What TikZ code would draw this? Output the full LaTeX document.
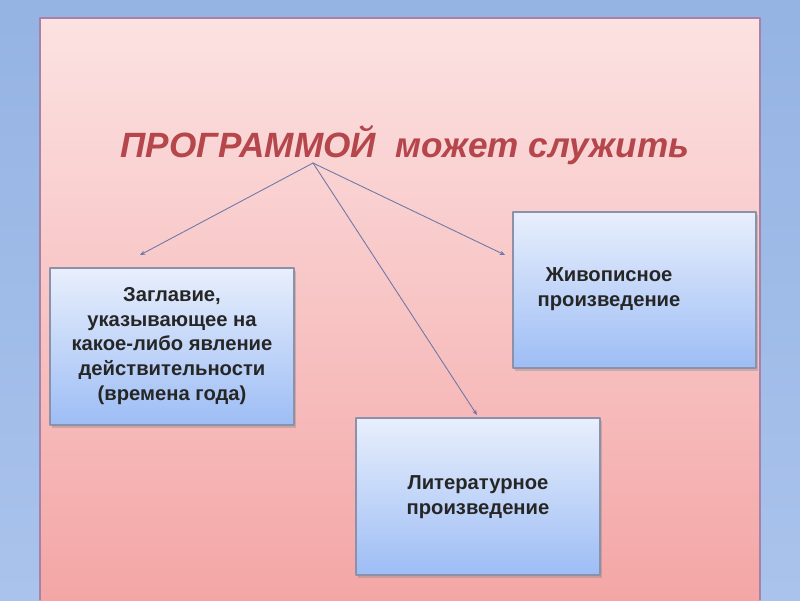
\documentclass[tikz,border=0pt]{standalone}
\usepackage{fontspec}
\setmainfont{Liberation Sans}
\usetikzlibrary{shadows,arrows.meta}
\definecolor{skyblue}{HTML}{95B3E3}
\definecolor{skylow}{HTML}{A9C3EC}
\definecolor{pinktop}{HTML}{FCE2E2}
\definecolor{pinklow}{HTML}{F4A6A6}
\definecolor{boxtop}{HTML}{E8EFFC}
\definecolor{boxlow}{HTML}{9DBDF5}
\definecolor{titlered}{HTML}{B5464B}
\definecolor{linkblue}{HTML}{6E78A8}
\definecolor{boxedge}{HTML}{8C90A8}
\tikzset{
  infobox/.style={draw=boxedge, line width=0.6pt, top color=boxtop, bottom color=boxlow,
    drop shadow={shadow xshift=1pt, shadow yshift=-1.5pt, opacity=0.35, fill=gray}},
  boxtext/.style={font=\bfseries\fontsize{11.5}{14}\selectfont, text=black!85, align=center},
  link/.style={draw=linkblue, line width=0.5pt, -{Stealth[length=3pt,width=2.5pt]}}
}
\begin{document}
\begin{tikzpicture}[x=0.02cm,y=-0.02cm,line join=round, line cap=round]
			\useasboundingbox (0,0) rectangle (800,600);
			\shade[top color=skyblue, bottom color=skylow] (0,0) rectangle (800,600);
			% panel
			\shade[top color=pinktop, bottom color=pinklow] (40,18) rectangle (760,600);
			\draw[gray!60!violet!70, line width=0.7pt] (40,600)--(40,18)--(760,18)--(760,600);
			% boxes
			\draw[infobox] (50,268) rectangle (294,425);
			\draw[infobox] (513,212) rectangle (756,368);
			\draw[infobox] (356,418) rectangle (600,575);
			\node[boxtext] (season) at (172,346) {Заглавие,\\указывающее на\\какое-либо явление\\действительности\\(времена года)};
			\node[boxtext] (paint) at (609,289) {Живописное\\произведение};
			\node[boxtext] (lit) at (478,497) {Литературное\\произведение};
			% title
			\node[font=\bfseries\itshape\fontsize{20}{24}\selectfont, text=titlered] (title) at (405,145) {ПРОГРАММОЙ\ \ может служить};
			\coordinate (A) at (313,163);
			\coordinate (L) at (140,255);
			\coordinate (R) at (505,255);
			\coordinate (B) at (477,415);
			\draw[link] (A)--(L);
			\draw[link] (A)--(R);
			\draw[link] (A)--(B);
		\end{tikzpicture}
\end{document}
